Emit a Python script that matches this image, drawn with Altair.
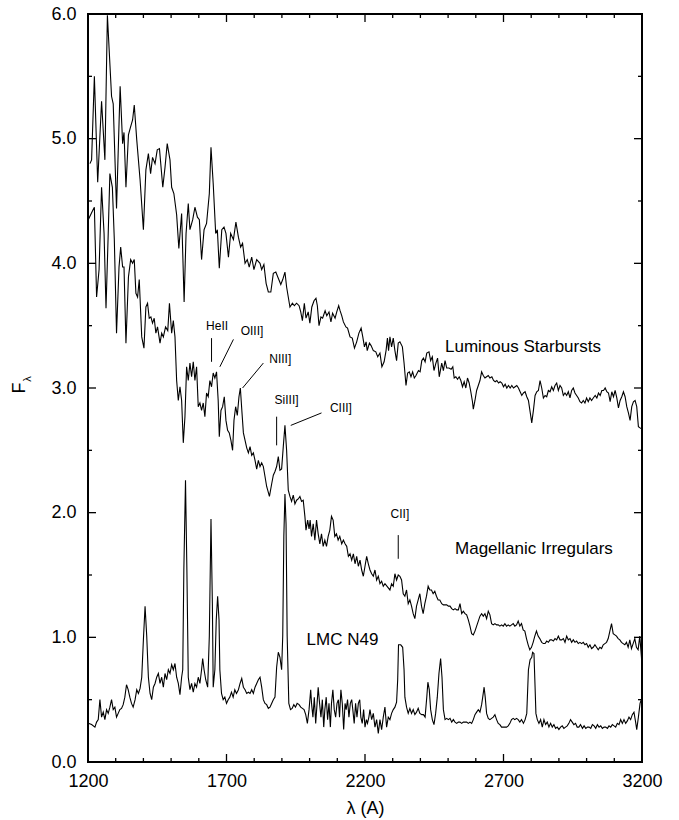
import altair as alt
import pandas as pd

FONT = "Liberation Sans, Arial, Helvetica, sans-serif"

# ---------------- spectra ----------------
sb_wave = [1207, 1213, 1223, 1235, 1249, 1261, 1270, 1285, 1291, 1303, 1316, 1325, 1330, 1337, 1346, 1352,
           1361, 1367, 1376, 1388, 1400, 1409, 1418, 1426, 1433, 1442, 1450, 1458, 1470, 1478, 1486, 1496,
           1502, 1510, 1520, 1528, 1538, 1547, 1554, 1562, 1568, 1578, 1586, 1595, 1602, 1610, 1619, 1628,
           1638, 1644, 1652, 1661, 1667, 1674, 1683, 1691, 1698, 1707, 1715, 1725, 1734, 1743, 1751, 1758,
           1767, 1775, 1782, 1791, 1799, 1809,
           1821, 1827, 1835, 1843, 1851, 1860, 1869, 1878, 1887, 1896, 1903, 1911, 1917, 1923, 1929, 1938,
           1945, 1953, 1962, 1968, 1974, 1981, 1987, 1995, 2001, 2008, 2016, 2023, 2028, 2034, 2041, 2047,
           2056, 2062, 2070, 2077, 2083, 2092, 2098, 2105, 2110, 2116, 2122, 2131, 2137, 2146, 2154, 2162,
           2170, 2178, 2186, 2192, 2198, 2204, 2208, 2216, 2222, 2230, 2239, 2246, 2254, 2261, 2269, 2276,
           2281, 2285, 2290, 2296, 2302, 2308, 2314, 2320, 2326, 2335, 2341, 2348, 2354, 2360, 2366, 2372,
           2378, 2384, 2393, 2399, 2405, 2411, 2417, 2423, 2431, 2437, 2443, 2449, 2456, 2462, 2468,
           2477, 2483, 2489, 2495, 2503, 2511, 2517, 2522, 2528, 2534, 2540, 2546, 2552, 2558, 2564, 2570,
           2576, 2582, 2588, 2591, 2597, 2603, 2609, 2615, 2621, 2627, 2633, 2639, 2645, 2651, 2658, 2664,
           2670, 2676, 2682, 2688, 2694, 2700, 2706, 2712, 2718, 2724, 2730, 2736, 2742, 2748, 2754, 2760,
           2766, 2772, 2778, 2784, 2790, 2796, 2802, 2808, 2814, 2820, 2826, 2832, 2838, 2844, 2850, 2856,
           2862, 2868, 2874, 2880, 2886, 2892, 2898, 2904, 2910, 2916, 2922, 2928, 2934, 2940, 2946, 2952,
           2958, 2964, 2970, 2976, 2982, 2988, 2994, 3000, 3006, 3012, 3018, 3024, 3031, 3037, 3043, 3049,
           3055, 3061, 3067, 3073, 3079, 3085, 3091, 3097, 3103, 3109, 3115, 3121, 3127, 3133, 3139, 3145,
           3151, 3157, 3163, 3169, 3175, 3181, 3187, 3193, 3200]
sb_flux = [4.80, 4.83, 5.50, 4.65, 5.30, 4.83, 5.99, 5.34, 5.28, 4.44, 5.42, 4.96, 5.05, 4.61, 5.03, 5.08,
           5.15, 5.27, 4.99, 4.67, 4.27, 4.75, 4.88, 4.72, 4.85, 4.80, 4.91, 4.92, 4.61, 4.77, 4.96, 4.83,
           4.61, 4.56, 4.39, 4.12, 4.40, 3.69, 4.24, 4.48, 4.27, 4.35, 4.45, 4.37, 4.35, 4.03, 4.27, 4.32,
           4.56, 4.93, 4.64, 4.24, 4.27, 3.96, 4.27, 4.29, 4.24, 4.05, 4.24, 4.19, 4.33, 4.21, 4.13, 4.16,
           4.00, 4.03, 3.97, 4.05, 3.95, 4.03,
           4.00, 3.95, 3.99, 3.84, 3.77, 3.77, 3.92, 3.93, 3.88, 3.83, 3.87, 3.93, 3.81, 3.73, 3.65, 3.68,
           3.66, 3.68, 3.66, 3.61, 3.54, 3.68, 3.56, 3.61, 3.52, 3.65, 3.70, 3.72, 3.66, 3.50, 3.57, 3.56,
           3.62, 3.58, 3.61, 3.53, 3.60, 3.56, 3.61, 3.66, 3.62, 3.58, 3.53, 3.49, 3.48, 3.41, 3.40, 3.32,
           3.37, 3.44, 3.48, 3.41, 3.33, 3.37, 3.30, 3.36, 3.34, 3.30, 3.29, 3.25, 3.28, 3.17, 3.21, 3.30,
           3.40, 3.30, 3.41, 3.33, 3.40, 3.30, 3.22, 3.36, 3.37, 3.33, 3.20, 3.02, 3.12, 3.13, 3.09, 3.13,
           3.08, 3.10, 3.14, 3.13, 3.22, 3.24, 3.21, 3.28, 3.29, 3.22, 3.25, 3.14, 3.20, 3.24, 3.09,
           3.20, 3.14, 3.22, 3.16, 3.16, 3.15, 3.17, 3.08, 3.09, 3.07, 3.09, 3.06, 3.01, 3.05, 3.00, 3.08,
           3.04, 2.97, 2.89, 2.83, 2.90, 2.98, 3.02, 3.06, 3.13, 3.10, 3.08, 3.09, 3.10, 3.08, 3.09, 3.06,
           3.05, 3.06, 3.04, 3.05, 3.04, 3.01, 3.03, 3.00, 3.02, 3.00, 3.02, 3.00, 3.01, 3.02, 3.00, 2.97,
           2.94, 2.96, 2.97, 2.93, 2.90, 2.81, 2.72, 2.82, 2.94, 2.97, 2.98, 3.06, 3.00, 2.92, 2.94, 2.93,
           2.98, 2.97, 3.01, 2.98, 3.02, 3.04, 2.98, 3.02, 3.00, 2.94, 2.96, 2.94, 2.97, 2.92, 2.98, 3.00,
           2.96, 2.94, 2.92, 2.89, 2.88, 2.90, 2.88, 2.92, 2.89, 2.92, 2.90, 2.92, 2.94, 2.92, 2.96, 2.94,
           2.98, 2.98, 3.00, 2.97, 2.96, 2.89, 2.97, 2.93, 2.98, 2.92, 2.84, 2.90, 2.93, 2.97, 2.93, 2.85,
           2.80, 2.74, 2.85, 2.89, 2.90, 2.85, 2.69, 2.68, 2.67]

mi_wave = [1201, 1216, 1223, 1231, 1240, 1249, 1258, 1265, 1273, 1279, 1288, 1295, 1303, 1312, 1318, 1325,
           1330, 1337, 1346, 1354, 1361, 1367, 1373, 1379, 1385, 1394, 1402, 1409, 1415, 1421, 1427, 1433,
           1439, 1445, 1451, 1460, 1466, 1472, 1480, 1488, 1494,
           1502, 1508, 1514, 1520, 1526, 1532, 1538, 1544, 1550, 1556, 1562, 1568, 1574, 1580, 1586, 1592,
           1598, 1604, 1610, 1616, 1622, 1628, 1634, 1640, 1646, 1652, 1658, 1664, 1670, 1674, 1680, 1686,
           1692, 1698, 1704, 1710, 1716, 1722, 1727, 1733, 1739, 1745, 1750, 1756, 1761, 1767, 1773, 1779,
           1785, 1791, 1797, 1803, 1809, 1815, 1821, 1827, 1833, 1839, 1845, 1855, 1863, 1869, 1875, 1881,
           1887, 1893, 1899, 1905, 1911, 1917, 1923,
           1929, 1935, 1941, 1947, 1953, 1959, 1965, 1971, 1977, 1983, 1987, 1993, 1998, 2002, 2007, 2013,
           2019, 2025, 2031, 2037, 2043, 2049, 2055, 2061, 2067, 2073, 2079, 2085, 2091, 2097, 2103, 2109,
           2116, 2122, 2128, 2134, 2140, 2146, 2152, 2158, 2164, 2170, 2176, 2182, 2188, 2194, 2200, 2206,
           2212, 2218, 2224, 2230, 2236, 2242, 2248, 2254, 2260, 2266, 2272,
           2290, 2296, 2302, 2308, 2314, 2320, 2326, 2332, 2338, 2344, 2350, 2356, 2362, 2368, 2374, 2380,
           2386, 2392, 2398, 2404, 2410, 2416, 2422, 2428, 2434, 2440, 2446, 2452, 2458, 2464, 2470, 2477,
           2483, 2489, 2495, 2501, 2507, 2513, 2519, 2525, 2531, 2537, 2543, 2549, 2555, 2561, 2567, 2573,
           2579, 2585, 2591, 2597, 2603, 2609, 2615, 2621, 2627, 2633, 2639, 2645, 2651, 2657, 2663, 2669,
           2675, 2681, 2687, 2693, 2699, 2705, 2711, 2717, 2723, 2729, 2735, 2741, 2747, 2753, 2759, 2765,
           2771, 2777, 2783, 2789, 2795, 2801, 2807, 2813, 2819, 2825, 2831, 2838, 2844, 2850, 2856, 2862,
           2868, 2874, 2880, 2886, 2892, 2898, 2904, 2910, 2916, 2922, 2928, 2934, 2940, 2946, 2952, 2958,
           2964, 2970, 2976, 2982, 2988, 2994, 3000, 3006, 3012, 3018, 3024, 3030, 3036, 3042, 3048, 3054,
           3060, 3066, 3072, 3078, 3084, 3090, 3096, 3102, 3108, 3114, 3120, 3126, 3132, 3138, 3144, 3150,
           3156, 3162, 3168, 3174, 3180, 3186, 3192, 3198, 3200]
mi_flux = [4.35, 4.42, 4.45, 3.73, 3.95, 4.61, 4.24, 3.64, 4.24, 4.72, 4.61, 4.19, 3.44, 3.97, 4.13, 3.97,
           3.97, 3.36, 3.89, 4.03, 4.00, 4.03, 3.76, 3.73, 3.87, 3.41, 3.32, 3.65, 3.68, 3.56, 3.57, 3.52,
           3.56, 3.44, 3.49, 3.36, 3.44, 3.41, 3.49, 3.46, 3.68,
           3.44, 3.54, 3.41, 3.06, 2.90, 3.01, 2.90, 2.56, 2.77, 3.17, 3.06, 3.20, 3.09, 3.21, 3.06, 3.17,
           2.85, 2.88, 2.82, 2.88, 2.77, 2.96, 2.93, 3.06, 3.01, 3.12, 3.08, 3.13, 2.90, 2.61, 2.82, 2.85,
           2.93, 2.74, 2.66, 2.64, 2.58, 2.50, 2.74, 2.85, 2.78, 2.93, 3.00, 2.80, 2.64, 2.58, 2.52, 2.48,
           2.53, 2.46, 2.48, 2.42, 2.35, 2.42, 2.37, 2.40, 2.37, 2.29, 2.21, 2.13, 2.23, 2.30, 2.33, 2.37,
           2.45, 2.34, 2.35, 2.53, 2.70, 2.50, 2.18,
           2.13, 2.09, 2.14, 2.07, 2.10, 2.11, 2.13, 2.09, 2.10, 1.97, 1.86, 1.94, 1.87, 1.94, 1.81, 1.91,
           1.78, 1.94, 1.83, 1.75, 1.83, 1.73, 1.78, 1.73, 1.81, 1.86, 1.97, 1.94, 1.81, 1.83, 1.78, 1.81,
           1.75, 1.78, 1.75, 1.73, 1.65, 1.67, 1.62, 1.67, 1.59, 1.65, 1.57, 1.62, 1.54, 1.49, 1.57, 1.65,
           1.59, 1.54, 1.51, 1.49, 1.54, 1.46, 1.49, 1.43, 1.45, 1.41, 1.43,
           1.38, 1.43, 1.41, 1.51, 1.46, 1.50, 1.49, 1.46, 1.35, 1.33, 1.38, 1.27, 1.30, 1.25, 1.19, 1.15,
           1.25, 1.30, 1.35, 1.25, 1.19, 1.27, 1.33, 1.41, 1.38, 1.38, 1.35, 1.37, 1.33, 1.30, 1.30, 1.27,
           1.26, 1.26, 1.26, 1.25, 1.25, 1.23, 1.22, 1.23, 1.22, 1.22, 1.27, 1.19, 1.21, 1.19, 1.18, 1.14,
           1.09, 1.03, 1.02, 1.05, 1.09, 1.13, 1.17, 1.19, 1.17, 1.19, 1.15, 1.21, 1.18, 1.11, 1.10, 1.11,
           1.10, 1.10, 1.09, 1.10, 1.09, 1.11, 1.09, 1.10, 1.09, 1.10, 1.11, 1.09, 1.10, 1.13, 1.09, 1.11,
           1.06, 1.05, 0.99, 0.94, 0.90, 0.92, 0.96, 1.01, 1.05, 1.01, 0.99, 0.96, 0.95, 0.95, 0.97, 0.96,
           0.98, 0.98, 0.97, 0.99, 0.98, 1.01, 0.98, 0.98, 0.99, 0.96, 1.01, 0.98, 0.99, 0.96, 0.98, 0.96,
           0.97, 0.95, 0.96, 0.95, 0.96, 0.94, 0.95, 0.92, 0.94, 0.91, 0.92, 0.94, 0.92, 0.90, 0.92, 0.91,
           0.94, 0.95, 0.96, 0.99, 1.05, 1.11, 1.03, 1.02, 1.01, 0.99, 0.98, 0.96, 0.95, 0.94, 0.96, 0.92,
           0.98, 0.91, 0.95, 0.99, 0.92, 0.90, 1.01, 0.84, 0.76]

lmc_wave = [1201, 1213, 1225, 1231, 1237, 1243, 1249, 1255, 1261, 1267, 1273, 1279, 1285, 1291, 1297, 1303,
            1309, 1315, 1321, 1327, 1333, 1339, 1345, 1351, 1357, 1363, 1370, 1376, 1382, 1388, 1394, 1400,
            1406, 1412, 1418, 1424, 1430, 1436, 1442, 1448, 1454, 1460, 1466, 1472, 1478, 1484, 1490, 1496,
            1502, 1508, 1514, 1520, 1526, 1532, 1538, 1542, 1546, 1552, 1557, 1562, 1568, 1574, 1580, 1586,
            1592, 1598, 1604, 1610, 1614, 1619, 1625, 1632, 1638, 1644, 1649, 1652, 1658, 1663, 1668, 1673,
            1676, 1682, 1688, 1694, 1700, 1706, 1712, 1718, 1724, 1730, 1736, 1743, 1749, 1755, 1761, 1767,
            1773, 1779, 1785, 1791, 1797, 1803, 1809, 1815, 1821, 1827, 1833, 1839, 1845, 1851, 1857, 1863,
            1869, 1875, 1881, 1887, 1893, 1899, 1903, 1907, 1911, 1915, 1919, 1925, 1931, 1937, 1943, 1949,
            1955, 1962, 1968, 1974, 1980, 1986, 1992, 1998, 2004, 2007, 2012, 2017, 2022, 2027, 2031, 2036,
            2041, 2046, 2051, 2055, 2060, 2065, 2070, 2075, 2079, 2084, 2089, 2094, 2099, 2104, 2108, 2113,
            2118, 2123, 2128, 2132, 2137, 2142, 2147, 2152, 2156, 2161, 2166, 2171, 2176, 2181, 2185, 2190,
            2195, 2200, 2205, 2209, 2214,
            2218, 2224, 2230, 2236, 2242, 2248, 2254, 2260, 2266, 2272, 2278, 2284, 2290, 2296, 2302, 2308,
            2314, 2318, 2321, 2329, 2336, 2341, 2344, 2350, 2356, 2362, 2368, 2374, 2380, 2386, 2392, 2398,
            2405, 2411, 2417, 2423, 2427, 2432, 2437, 2443, 2449, 2455, 2461, 2467, 2473, 2478, 2483, 2489,
            2495, 2501, 2507, 2513, 2519, 2525, 2531, 2537, 2543, 2549, 2555, 2561, 2567, 2573, 2579, 2585,
            2591, 2597, 2603, 2609, 2615, 2621, 2625, 2630, 2634, 2639, 2645, 2651, 2657, 2663, 2669, 2675,
            2681, 2687, 2693, 2699, 2705, 2711, 2717, 2723, 2729, 2735, 2741, 2747, 2753, 2759, 2765, 2772,
            2778, 2784, 2790, 2796, 2802, 2805, 2810, 2814, 2817, 2822, 2828, 2834, 2840, 2846, 2852, 2858,
            2864, 2870, 2876, 2882, 2888, 2894, 2900, 2906, 2912, 2918, 2924, 2930, 2936, 2942, 2948, 2954,
            2960, 2966, 2972, 2978, 2985, 2991, 2997, 3003, 3009, 3015, 3021, 3027, 3033, 3039, 3045, 3051,
            3057, 3063, 3069, 3075, 3081, 3087, 3093, 3099, 3105, 3111, 3117, 3123, 3129, 3135, 3141, 3147,
            3153, 3159, 3165, 3171, 3177, 3181, 3187, 3193, 3199]
lmc_flux = [0.31, 0.30, 0.28, 0.32, 0.34, 0.50, 0.36, 0.40, 0.34, 0.42, 0.39, 0.44, 0.50, 0.42, 0.44, 0.36,
            0.39, 0.42, 0.43, 0.46, 0.52, 0.62, 0.58, 0.52, 0.47, 0.44, 0.50, 0.58, 0.55, 0.59, 0.68, 0.98,
            1.25, 1.01, 0.68, 0.55, 0.50, 0.60, 0.63, 0.68, 0.71, 0.63, 0.68, 0.60, 0.71, 0.66, 0.74, 0.71,
            0.78, 0.74, 0.79, 0.68, 0.63, 0.54, 0.68, 0.74, 1.54, 2.26, 1.54, 0.68, 0.58, 0.63, 0.56, 0.63,
            0.60, 0.68, 0.63, 0.74, 0.83, 0.74, 0.66, 0.60, 1.01, 1.95, 1.27, 0.60, 0.74, 1.14, 1.33, 1.14,
            0.74, 0.55, 0.50, 0.52, 0.47, 0.50, 0.52, 0.56, 0.52, 0.58, 0.55, 0.58, 0.63, 0.67, 0.60, 0.58,
            0.55, 0.56, 0.55, 0.58, 0.55, 0.60, 0.63, 0.66, 0.68, 0.60, 0.50, 0.47, 0.46, 0.43, 0.44, 0.47,
            0.50, 0.52, 0.76, 0.88, 0.84, 0.74, 1.01, 1.81, 2.15, 1.91, 1.01, 0.47, 0.42, 0.43, 0.46, 0.44,
            0.47, 0.46, 0.44, 0.43, 0.42, 0.38, 0.31, 0.42, 0.58, 0.47, 0.36, 0.52, 0.31, 0.47, 0.60, 0.47,
            0.36, 0.50, 0.28, 0.42, 0.52, 0.34, 0.47, 0.28, 0.47, 0.58, 0.42, 0.36, 0.47, 0.50, 0.36, 0.58,
            0.47, 0.26, 0.47, 0.42, 0.50, 0.36, 0.47, 0.50, 0.42, 0.31, 0.47, 0.36, 0.47, 0.50, 0.36, 0.31,
            0.42, 0.28, 0.34, 0.31, 0.36,
            0.42, 0.34, 0.39, 0.28, 0.34, 0.23, 0.34, 0.26, 0.36, 0.44, 0.28, 0.36, 0.34, 0.39, 0.42, 0.44,
            0.48, 0.66, 0.94, 0.94, 0.92, 0.74, 0.52, 0.44, 0.39, 0.43, 0.39, 0.42, 0.38, 0.40, 0.43, 0.39,
            0.38, 0.38, 0.36, 0.52, 0.64, 0.58, 0.42, 0.34, 0.30, 0.39, 0.52, 0.71, 0.83, 0.68, 0.42, 0.34,
            0.35, 0.34, 0.35, 0.32, 0.34, 0.32, 0.31, 0.32, 0.32, 0.31, 0.32, 0.32, 0.32, 0.31, 0.32, 0.31,
            0.34, 0.38, 0.40, 0.42, 0.40, 0.46, 0.52, 0.60, 0.52, 0.39, 0.35, 0.34, 0.35, 0.36, 0.38, 0.34,
            0.31, 0.30, 0.28, 0.28, 0.28, 0.28, 0.29, 0.31, 0.34, 0.35, 0.34, 0.35, 0.34, 0.32, 0.34, 0.31,
            0.34, 0.39, 0.74, 0.82, 0.84, 0.88, 0.87, 0.60, 0.39, 0.34, 0.31, 0.34, 0.28, 0.34, 0.30, 0.32,
            0.28, 0.31, 0.28, 0.30, 0.27, 0.28, 0.26, 0.28, 0.29, 0.27, 0.28, 0.29, 0.31, 0.34, 0.32, 0.30,
            0.31, 0.28, 0.28, 0.30, 0.27, 0.29, 0.27, 0.28, 0.28, 0.27, 0.30, 0.29, 0.27, 0.30, 0.28, 0.29,
            0.27, 0.28, 0.28, 0.27, 0.29, 0.28, 0.30, 0.29, 0.28, 0.31, 0.30, 0.34, 0.31, 0.34, 0.31, 0.33,
            0.36, 0.34, 0.38, 0.40, 0.32, 0.26, 0.36, 0.47, 0.51]

# ---------------- annotations ----------------
series_names = ["Luminous Starbursts", "Magellanic Irregulars", "LMC N49"]
series_label_wave = [2489, 2525, 1989]
series_label_flux = [3.33, 1.71, 0.98]

line_names = ["HeII", "OIII]", "NIII]", "SiIII]", "CIII]", "CII]"]
line_label_wave = [1666, 1792, 1894, 1917, 2113, 2326]
line_label_flux = [3.50, 3.46, 3.23, 2.90, 2.84, 1.99]
marker_wave1 = [1646, 1725, 1833, 1881, 2043, 2320]
marker_flux1 = [3.40, 3.39, 3.20, 2.77, 2.80, 1.82]
marker_wave2 = [1646, 1676, 1758, 1881, 1932, 2320]
marker_flux2 = [3.21, 3.17, 3.00, 2.54, 2.70, 1.63]

# ---------------- axes ticks ----------------
x_major = [1200, 1700, 2200, 2700, 3200]
x_minor = [1300, 1400, 1500, 1600, 1800, 1900, 2000, 2100, 2300, 2400, 2500, 2600,
           2800, 2900, 3000, 3100]
y_major = [0, 1, 2, 3, 4, 5, 6]
y_minor = [0.5, 1.5, 2.5, 3.5, 4.5, 5.5]

W, H = 554, 748
MAJ, MIN = 8, 4

xs = alt.Scale(domain=[1200, 3200], nice=False, zero=False)
ys = alt.Scale(domain=[0, 6], nice=False, zero=False)

x_axis = alt.Axis(values=x_major, format="d", title="λ (A)", grid=False, domain=False,
                  ticks=False, tickSize=0, labelFontSize=18, labelPadding=10, labelFlush=False,
                  labelOverlap=False, titleFontSize=18, titleFontWeight="normal", titlePadding=9)
y_axis = alt.Axis(values=y_major, format=".1f", title=None, grid=False, domain=False,
                  ticks=False, tickSize=0, labelFontSize=18, labelPadding=12, labelFlush=False,
                  labelOverlap=False)

spec = pd.concat([
    pd.DataFrame({"wave": sb_wave, "flux": sb_flux, "series": series_names[0]}),
    pd.DataFrame({"wave": mi_wave, "flux": mi_flux, "series": series_names[1]}),
    pd.DataFrame({"wave": lmc_wave, "flux": lmc_flux, "series": series_names[2]}),
], ignore_index=True)

lines = alt.Chart(spec).mark_line(color="black", strokeWidth=1.1, clip=True).encode(
    x=alt.X("wave:Q", scale=xs, axis=x_axis),
    y=alt.Y("flux:Q", scale=ys, axis=y_axis),
    detail="series:N",
)


def xticks(vals, y0, y1):
    return alt.Chart(pd.DataFrame({"v": vals})).mark_rule(color="black", strokeWidth=1.3).encode(
        x=alt.X("v:Q", scale=xs, axis=x_axis), y=alt.value(y0), y2=alt.value(y1))


def yticks(vals, x0, x1):
    return alt.Chart(pd.DataFrame({"v": vals})).mark_rule(color="black", strokeWidth=1.3).encode(
        y=alt.Y("v:Q", scale=ys, axis=y_axis), x=alt.value(x0), x2=alt.value(x1))


tick_layers = [
    xticks(x_major, H, H - MAJ), xticks(x_minor, H, H - MIN),
    xticks(x_major, 0, MAJ), xticks(x_minor, 0, MIN),
    yticks(y_major, 0, MAJ), yticks(y_minor, 0, MIN),
    yticks(y_major, W, W - MAJ), yticks(y_minor, W, W - MIN),
]

series_df = pd.DataFrame({"name": series_names, "w": series_label_wave, "f": series_label_flux})
series_text = alt.Chart(series_df).mark_text(align="left", baseline="middle", fontSize=17,
                                             font=FONT, color="black").encode(
    x=alt.X("w:Q", scale=xs, axis=x_axis), y=alt.Y("f:Q", scale=ys, axis=y_axis), text="name:N")

line_df = pd.DataFrame({"name": line_names, "w": line_label_wave, "f": line_label_flux,
                        "w1": marker_wave1, "f1": marker_flux1, "w2": marker_wave2, "f2": marker_flux2})
line_text = alt.Chart(line_df).mark_text(align="center", baseline="middle", fontSize=12,
                                         font=FONT, color="black").encode(
    x=alt.X("w:Q", scale=xs, axis=x_axis), y=alt.Y("f:Q", scale=ys, axis=y_axis), text="name:N")
markers = alt.Chart(line_df).mark_rule(color="black", strokeWidth=1).encode(
    x=alt.X("w1:Q", scale=xs, axis=x_axis), y=alt.Y("f1:Q", scale=ys, axis=y_axis),
    x2="w2:Q", y2="f2:Q")

ylab_F = alt.Chart(pd.DataFrame({"t": ["F"]})).mark_text(
    angle=270, fontSize=18, font=FONT, color="black", align="center", baseline="middle").encode(
    x=alt.value(-68), y=alt.value(374), text="t:N")
ylab_sub = alt.Chart(pd.DataFrame({"t": ["λ"]})).mark_text(
    angle=270, fontSize=11, font=FONT, color="black", align="center", baseline="middle").encode(
    x=alt.value(-60), y=alt.value(365), text="t:N")

chart = alt.layer(lines, *tick_layers, markers, line_text, series_text, ylab_F, ylab_sub).properties(
    width=W, height=H,
    background="white",
    autosize=alt.AutoSizeParams(type="none"),
    padding={"left": 88, "top": 14, "right": 37, "bottom": 58},
).configure_view(stroke="black", strokeWidth=2).configure_axis(
    labelFont=FONT, titleFont=FONT, labelColor="black", titleColor="black"
)

chart.save("out.html", embed_options={"renderer": "svg", "actions": False})
